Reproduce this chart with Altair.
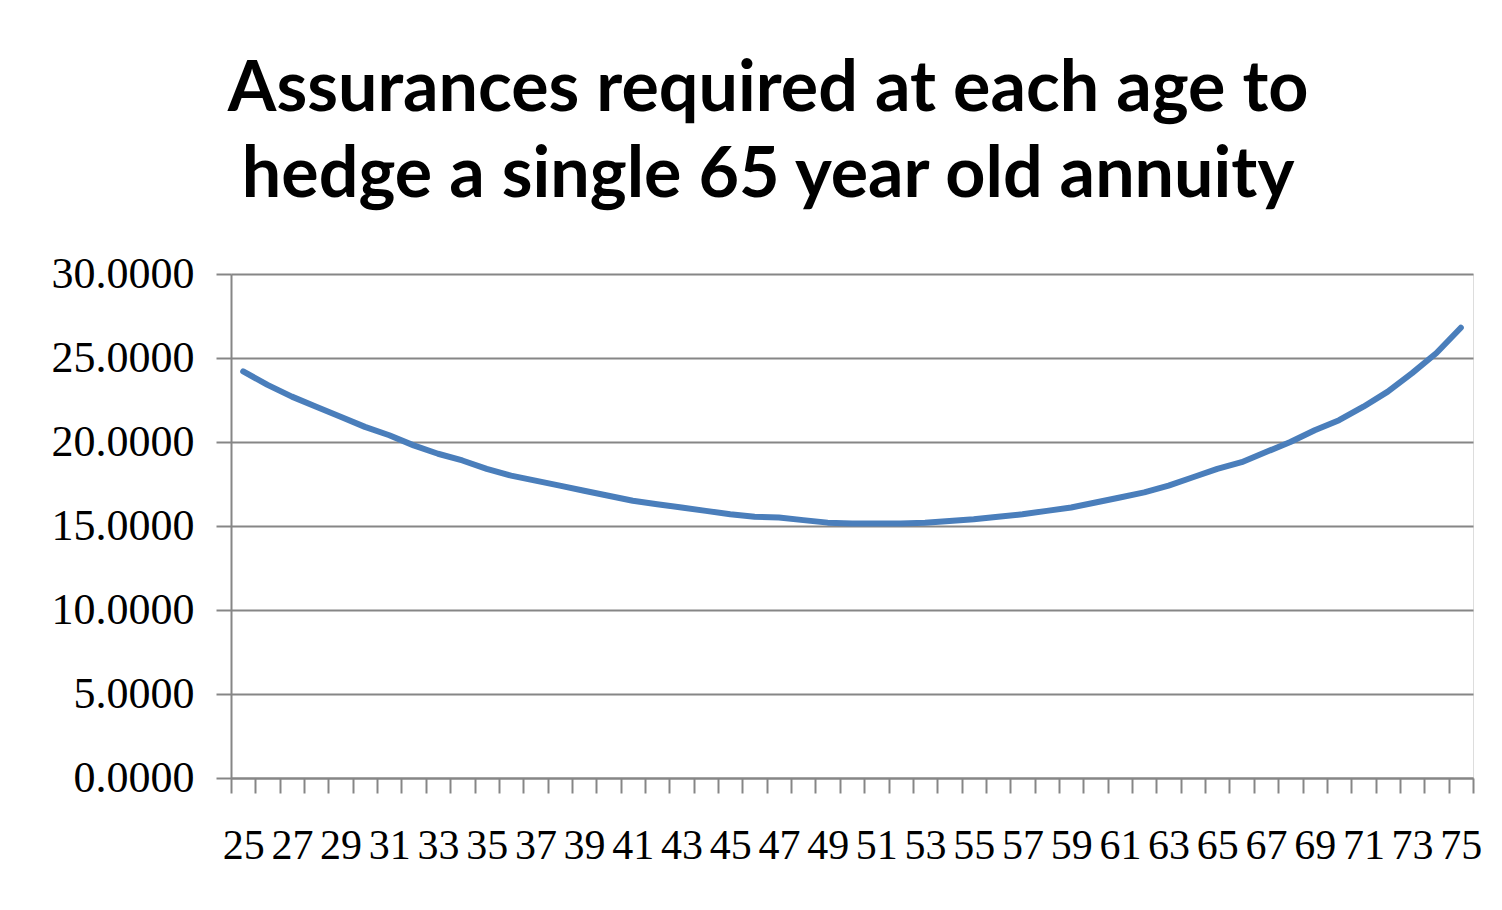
import altair as alt
import pandas as pd

ages = list(range(25, 76))
values = [24.2, 23.4, 22.7, 22.1, 21.5, 20.9, 20.4, 19.8, 19.3, 18.9,
          18.4, 18.0, 17.7, 17.4, 17.1, 16.8, 16.5, 16.3, 16.1, 15.9,
          15.7, 15.55, 15.5, 15.35, 15.2, 15.15, 15.15, 15.15, 15.2, 15.3,
          15.4, 15.55, 15.7, 15.9, 16.1, 16.4, 16.7, 17.0, 17.4, 17.9,
          18.4, 18.8, 19.4, 20.0, 20.7, 21.3, 22.1, 23.0, 24.1, 25.3, 26.8]
y_ticks = [0, 5, 10, 15, 20, 25, 30]
title_lines = ["Assurances required at each age to",
               "hedge a single 65 year old annuity"]

df = pd.DataFrame({"age": ages, "value": values})

n = len(ages)
x_lo, x_hi = ages[0] - 0.5, ages[-1] + 0.5
tick_vals = [x_lo + i for i in range(n + 1)]
plot_w, plot_h = 1242, 504

chart = alt.Chart(df).mark_line(
    color="#4a7ebb", strokeWidth=6, strokeCap="round", strokeJoin="round"
).encode(
    x=alt.X("age:Q",
            scale=alt.Scale(domain=[x_lo, x_hi], nice=False, zero=False),
            axis=alt.Axis(values=tick_vals, grid=False, title=None,
                          labelExpr=f"(datum.value - {x_lo}) % 2 == 0 ? format(datum.value + 0.5, 'd') : ''",
                          labelOffset=plot_w / n / 2, labelOverlap=False,
                          labelBound=False, labelFlush=False,
                          tickSize=15, tickColor="#868686", tickWidth=2,
                          domainColor="#868686", domainWidth=2,
                          labelFont="Liberation Serif", labelFontSize=42,
                          labelColor="#000000", labelPadding=32)),
    y=alt.Y("value:Q",
            scale=alt.Scale(domain=[0, 30], nice=False),
            axis=alt.Axis(values=y_ticks, format=".4f", title=None,
                          gridColor="#868686", gridWidth=2,
                          tickSize=15, tickColor="#868686", tickWidth=2,
                          domainColor="#868686", domainWidth=2,
                          labelFont="Liberation Serif", labelFontSize=44,
                          labelColor="#000000", labelPadding=22)),
).properties(
    width=plot_w, height=plot_h,
    title=alt.TitleParams(text=title_lines, font="Lato", fontSize=70,
                          fontWeight="bold", color="#000000",
                          anchor="middle", frame="bounds",
                          lineHeight=86, offset=40),
    autosize=alt.AutoSizeParams(type="none"),
    padding={"left": 231, "top": 274, "right": 29, "bottom": 132},
).configure_view(stroke=None).configure(background="#ffffff")

chart.save("out.html", embed_options={"renderer": "svg", "actions": False})
